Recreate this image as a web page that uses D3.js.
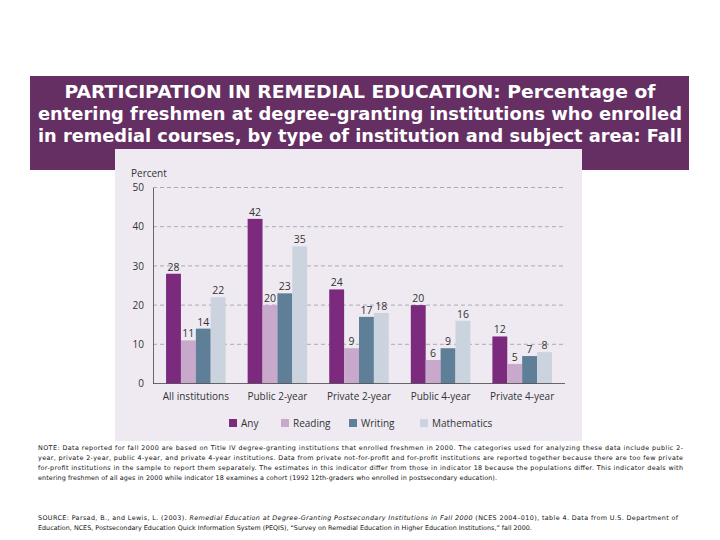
<!DOCTYPE html>
<html><head><meta charset="utf-8">
<script src="https://cdn.jsdelivr.net/npm/d3@7"></script>
<style>body{margin:0;background:#fff}svg{display:block}</style>
</head><body>
<svg id="c" width="720" height="540"></svg>
<script>
const categories = ["All institutions","Public 2-year","Private 2-year","Public 4-year","Private 4-year"];
const seriesNames = ["Any","Reading","Writing","Mathematics"];
const anyVals = [28,42,24,20,12];
const readingVals = [11,20,9,6,5];
const writingVals = [14,23,17,9,7];
const mathVals = [22,35,18,16,8];
const yTicks = [0,10,20,30,40,50];
const titleLines = [
 "PARTICIPATION IN REMEDIAL EDUCATION: Percentage of",
 "entering freshmen at degree-granting institutions who enrolled",
 "in remedial courses, by type of institution and subject area: Fall"];
const noteLines = [
 "NOTE: Data reported for fall 2000 are based on Title IV degree-granting institutions that enrolled freshmen in 2000. The categories used for analyzing these data include public 2-",
 "year, private 2-year, public 4-year, and private 4-year institutions. Data from private not-for-profit and for-profit institutions are reported together because there are too few private",
 "for-profit institutions in the sample to report them separately. The estimates in this indicator differ from those in indicator 18 because the populations differ. This indicator deals with",
 "entering freshmen of all ages in 2000 while indicator 18 examines a cohort (1992 12th-graders who enrolled in postsecondary education)."];

const series = [anyVals, readingVals, writingVals, mathVals];
const colors = ["#7b2a7e","#c8a8cb","#5f7e98","#cbd3de"];
const svg = d3.select("#c");

// title band
svg.append("rect").attr("x",30).attr("y",76).attr("width",659).attr("height",94).attr("fill","#652f63");
const tw=[591,644,644];
titleLines.forEach((t,i)=>{
  svg.append("text").attr("x",360).attr("y",98+i*22).attr("text-anchor","middle")
    .attr("font-family","DejaVu Sans, sans-serif").attr("font-weight","bold").attr("font-size",17)
    .attr("fill","#fff").attr("textLength",tw[i]).attr("lengthAdjust","spacingAndGlyphs").text(t);
});

// panel
svg.append("rect").attr("x",115).attr("y",149).attr("width",467).attr("height",292).attr("fill","#efeaf2");

const x0 = d3.scaleBand().domain(categories).range([153,565]).paddingInner(0.27).paddingOuter(0.16);
const x1 = d3.scaleBand().domain(seriesNames).range([0,x0.bandwidth()]);
const y = d3.scaleLinear().domain([0,50]).range([383.5,187.5]);
const font = "Open Sans, sans-serif";

// gridlines
svg.append("g").selectAll("line").data(yTicks.filter(d=>d>0)).join("line")
  .attr("x1",153).attr("x2",565).attr("y1",d=>y(d)).attr("y2",d=>y(d))
  .attr("stroke","#9c98a2").attr("stroke-width",0.8).attr("stroke-dasharray","4,3");

// y axis
const yAxis = d3.axisLeft(y).tickValues(yTicks).tickSize(0).tickPadding(9);
const gy = svg.append("g").attr("transform","translate(153,0)").call(yAxis);
gy.select(".domain").attr("stroke","#444").attr("stroke-width",0.8);
gy.selectAll("text").attr("font-family",font).attr("font-size",10).attr("fill","#333");

svg.append("text").attr("x",131).attr("y",177).attr("font-family",font).attr("font-size",10).attr("fill","#333").text("Percent");

// bars
const groups = svg.append("g").selectAll("g").data(categories).join("g")
  .attr("transform",d=>`translate(${x0(d)},0)`);
groups.each(function(cat,ci){
  const g=d3.select(this);
  const rows = seriesNames.map((s,si)=>({s,v:series[si][ci],c:colors[si]}));
  g.selectAll("rect").data(rows).join("rect")
    .attr("x",d=>x1(d.s)).attr("width",x1.bandwidth())
    .attr("y",d=>y(d.v)).attr("height",d=>y(0)-y(d.v)).attr("fill",d=>d.c);
  g.selectAll("text").data(rows).join("text")
    .attr("x",d=>x1(d.s)+x1.bandwidth()/2).attr("y",d=>y(d.v)-3)
    .attr("text-anchor","middle").attr("font-family",font).attr("font-size",10.5).attr("fill","#333")
    .text(d=>d.v);
});

// x axis
const xAxis = d3.axisBottom(x0).tickSize(0).tickPadding(9);
const gx = svg.append("g").attr("transform",`translate(0,${y(0)})`).call(xAxis);
gx.select(".domain").attr("stroke","#444").attr("stroke-width",0.8).attr("d","M153,0H565");
gx.selectAll("text").attr("font-family",font).attr("font-size",10).attr("fill","#333");

// legend
const legX=[229,281,349,420];
seriesNames.forEach((s,i)=>{
  svg.append("rect").attr("x",legX[i]).attr("y",419).attr("width",8).attr("height",8).attr("fill",colors[i]);
  svg.append("text").attr("x",legX[i]+12).attr("y",426.5).attr("font-family",font).attr("font-size",10).attr("fill","#333").text(s);
});

// notes
const nf="DejaVu Sans, sans-serif";
noteLines.forEach((t,i)=>{
  const el=svg.append("text").attr("x",38).attr("y",450+i*10).attr("font-family",nf).attr("font-size",6.4).attr("fill","#111").text(t);
  if(i<3) el.attr("textLength",645).attr("lengthAdjust","spacing");
  else el.attr("textLength",459).attr("lengthAdjust","spacing");
});
const s1=svg.append("text").attr("x",38).attr("y",520).attr("font-family",nf).attr("font-size",6.4).attr("fill","#111")
  .attr("textLength",640).attr("lengthAdjust","spacing");
s1.append("tspan").text("SOURCE: Parsad, B., and Lewis, L. (2003). ");
s1.append("tspan").attr("font-style","italic").text("Remedial Education at Degree-Granting Postsecondary Institutions in Fall 2000");
s1.append("tspan").text(" (NCES 2004–010), table 4. Data from U.S. Department of");
svg.append("text").attr("x",38).attr("y",530).attr("font-family",nf).attr("font-size",6.4).attr("fill","#111")
  .text("Education, NCES, Postsecondary Education Quick Information System (PEQIS), “Survey on Remedial Education in Higher Education Institutions,” fall 2000.");
</script>
</body></html>
